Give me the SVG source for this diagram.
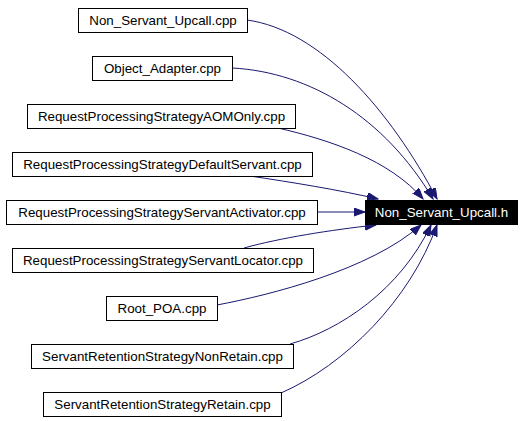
<svg xmlns="http://www.w3.org/2000/svg" width="525" height="421" viewBox="0 0 525 421">
<style>
.n rect{fill:#fff;stroke:#000;stroke-width:1}
.n text{font-family:"Liberation Sans",Arial,sans-serif;font-size:13.33px;fill:#000;text-anchor:middle}
#target rect{fill:#000;stroke:#000}
#target text{fill:#fff}
.e path{fill:none;stroke:#191970;stroke-width:1;marker-end:url(#ah)}
</style>
<defs>
<marker id="ah" markerUnits="userSpaceOnUse" markerWidth="12" markerHeight="10" refX="11" refY="4" orient="auto">
<path d="M0,0 L11,4 L0,8 z" fill="#191970" stroke="#191970" stroke-width="1"/>
</marker>
</defs>
<rect width="525" height="421" fill="#fff"/>
<g id="edges" class="e">
<path d="M247,20 C320,30 390,110 437,199"/>
<path d="M232,68 C310,72 385,118 433,199"/>
<path d="M278,128 C330,140 390,160 423,199"/>
<path d="M250,176 C290,182 340,190 378,199"/>
<path d="M317,212 L365,212"/>
<path d="M244,248 C280,238 330,230 376,225"/>
<path d="M217,305 C270,295 370,270 421,225"/>
<path d="M290,344 C340,330 400,290 431,225"/>
<path d="M281,393 C345,365 410,300 437,225"/>
</g>
<g id="target" class="n"><rect x="365.5" y="200.5" width="152" height="24"/><text x="441.5" y="217">Non_Servant_Upcall.h</text></g>
<g id="n1" class="n"><rect x="78.5" y="8.5" width="169" height="24"/><text x="163" y="25">Non_Servant_Upcall.cpp</text></g>
<g id="n2" class="n"><rect x="92.5" y="56.5" width="140" height="24"/><text x="162.5" y="73">Object_Adapter.cpp</text></g>
<g id="n3" class="n"><rect x="27.5" y="104.5" width="268" height="24"/><text x="161.5" y="121">RequestProcessingStrategyAOMOnly.cpp</text></g>
<g id="n4" class="n"><rect x="12.5" y="152.5" width="300" height="24"/><text x="162.5" y="169">RequestProcessingStrategyDefaultServant.cpp</text></g>
<g id="n5" class="n"><rect x="6.5" y="200.5" width="311" height="24"/><text x="162" y="217">RequestProcessingStrategyServantActivator.cpp</text></g>
<g id="n6" class="n"><rect x="12.5" y="248.5" width="301" height="24"/><text x="163" y="265">RequestProcessingStrategyServantLocator.cpp</text></g>
<g id="n7" class="n"><rect x="106.5" y="296.5" width="111" height="24"/><text x="162" y="313">Root_POA.cpp</text></g>
<g id="n8" class="n"><rect x="31.5" y="344.5" width="262" height="24"/><text x="162.5" y="361">ServantRetentionStrategyNonRetain.cpp</text></g>
<g id="n9" class="n"><rect x="43.5" y="392.5" width="238" height="24"/><text x="162.5" y="409">ServantRetentionStrategyRetain.cpp</text></g>
</svg>
